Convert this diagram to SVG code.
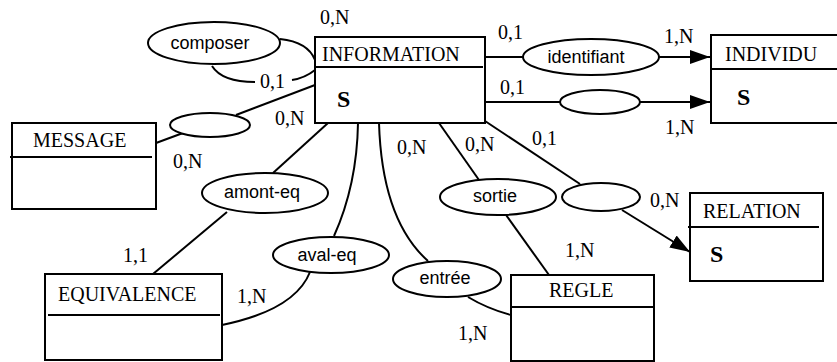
<svg xmlns="http://www.w3.org/2000/svg" width="837" height="362" viewBox="0 0 837 362">
  <style>
    .box { fill: #fff; stroke: #000; stroke-width: 2; }
    .sep { stroke: #000; stroke-width: 2; }
    .rel { fill: #fff; stroke: #000; stroke-width: 2; }
    .link { fill: none; stroke: #000; stroke-width: 2; }
    .ent { font-family: "Liberation Serif", "Times New Roman", serif; font-size: 20px; fill: #000; }
    .key { font-family: "Liberation Serif", "Times New Roman", serif; font-size: 24px; font-weight: bold; fill: #000; }
    .card { font-family: "Liberation Serif", "Times New Roman", serif; font-size: 20px; fill: #000; }
    .rlab { font-family: "Liberation Sans", Arial, sans-serif; font-size: 18px; fill: #000; text-anchor: middle; }
  </style>
  <defs>
    <marker id="arrow" markerUnits="userSpaceOnUse" markerWidth="20" markerHeight="14" refX="20" refY="7" orient="auto">
      <path d="M0,0 L20,7 L0,14 z" fill="#000"/>
    </marker>
  </defs>
  <rect width="837" height="362" fill="#fff"/>

  <!-- connectors -->
  <g id="connectors">
    <!-- composer (reflexive on INFORMATION) -->
    <path class="link" d="M280,39 Q308,42 315,60"/>
    <path class="link" d="M212,66 Q222,82 255,82"/>
    <path class="link" d="M292,80 Q305,78 315,70"/>
    <!-- INFORMATION - MESSAGE -->
    <path class="link" d="M315,85 L236,115"/>
    <path class="link" d="M183,133 L156,143"/>
    <!-- identifiant -->
    <path class="link" d="M485,57 L523,57"/>
    <path class="link" d="M659,57 L710,57" marker-end="url(#arrow)"/>
    <!-- second INFORMATION - INDIVIDU link -->
    <path class="link" d="M485,102 L560,102"/>
    <path class="link" d="M640,102 L710,102" marker-end="url(#arrow)"/>
    <!-- amont-eq -->
    <path class="link" d="M328,123 L273,173"/>
    <path class="link" d="M227,212 L153,274"/>
    <!-- aval-eq -->
    <path class="link" d="M358,123 Q357,185 334,236"/>
    <path class="link" d="M310,272 Q295,310 222,325"/>
    <!-- entrée -->
    <path class="link" d="M379,123 Q382,220 428,261"/>
    <path class="link" d="M468,297 Q488,309 511,315"/>
    <!-- sortie -->
    <path class="link" d="M439,123 L479,180"/>
    <path class="link" d="M506,215 L549,275"/>
    <!-- INFORMATION - RELATION -->
    <path class="link" d="M485,121 L580,184"/>
    <path class="link" d="M622,210 L690,252" marker-end="url(#arrow)"/>
  </g>

  <!-- relationship ellipses -->
  <g id="composer">
    <ellipse class="rel" cx="214" cy="43" rx="66" ry="21"/>
    <text class="rlab" x="210" y="49">composer</text>
  </g>
  <g id="message-link">
    <ellipse class="rel" cx="210" cy="125" rx="40" ry="12"/>
  </g>
  <g id="identifiant">
    <ellipse class="rel" cx="591" cy="57" rx="68" ry="18"/>
    <text class="rlab" x="586" y="63">identifiant</text>
  </g>
  <g id="individu-link">
    <ellipse class="rel" cx="600" cy="102" rx="40" ry="12"/>
  </g>
  <g id="amont-eq">
    <ellipse class="rel" cx="265" cy="193" rx="63" ry="20"/>
    <text class="rlab" x="262" y="198">amont-eq</text>
  </g>
  <g id="aval-eq">
    <ellipse class="rel" cx="331" cy="255" rx="58" ry="18"/>
    <text class="rlab" x="327" y="261">aval-eq</text>
  </g>
  <g id="entree">
    <ellipse class="rel" cx="447" cy="279" rx="54" ry="18"/>
    <text class="rlab" x="445" y="284">entrée</text>
  </g>
  <g id="sortie">
    <ellipse class="rel" cx="498" cy="197" rx="58" ry="18"/>
    <text class="rlab" x="495" y="202">sortie</text>
  </g>
  <g id="relation-link">
    <ellipse class="rel" cx="601" cy="197" rx="39" ry="14"/>
  </g>

  <!-- entities -->
  <g id="information">
    <rect class="box" x="315" y="37" width="170" height="86"/>
    <line class="sep" x1="315" y1="67" x2="483" y2="67"/>
    <text class="ent" x="322" y="61">INFORMATION</text>
    <text class="key" x="337" y="107">S</text>
  </g>
  <g id="individu">
    <rect class="box" x="711" y="35" width="127" height="88"/>
    <line class="sep" x1="711" y1="69" x2="838" y2="69"/>
    <text class="ent" x="725" y="61">INDIVIDU</text>
    <text class="key" x="737" y="105">S</text>
  </g>
  <g id="message">
    <rect class="box" x="12" y="123" width="144" height="86"/>
    <line class="sep" x1="10" y1="157" x2="152" y2="157"/>
    <text class="ent" x="33" y="147">MESSAGE</text>
  </g>
  <g id="equivalence">
    <rect class="box" x="45" y="274" width="177" height="86"/>
    <line class="sep" x1="48" y1="315" x2="220" y2="315"/>
    <text class="ent" x="58" y="301">EQUIVALENCE</text>
  </g>
  <g id="regle">
    <rect class="box" x="511" y="275" width="143" height="86"/>
    <line class="sep" x1="511" y1="307" x2="654" y2="307"/>
    <text class="ent" x="549" y="297">REGLE</text>
  </g>
  <g id="relation">
    <rect class="box" x="690" y="193" width="133" height="88"/>
    <line class="sep" x1="688" y1="227" x2="819" y2="227"/>
    <text class="ent" x="703" y="218">RELATION</text>
    <text class="key" x="710" y="262">S</text>
  </g>

  <!-- cardinalities -->
  <g id="cardinalities">
    <text class="card" x="320" y="24">0,N</text>
    <text class="card" x="260" y="88">0,1</text>
    <text class="card" x="275" y="125">0,N</text>
    <text class="card" x="173" y="168">0,N</text>
    <text class="card" x="498" y="39">0,1</text>
    <text class="card" x="664" y="43">1,N</text>
    <text class="card" x="500" y="94">0,1</text>
    <text class="card" x="665" y="134">1,N</text>
    <text class="card" x="397" y="154">0,N</text>
    <text class="card" x="465" y="151">0,N</text>
    <text class="card" x="532" y="145">0,1</text>
    <text class="card" x="650" y="207">0,N</text>
    <text class="card" x="565" y="257">1,N</text>
    <text class="card" x="123" y="262">1,1</text>
    <text class="card" x="237" y="303">1,N</text>
    <text class="card" x="458" y="340">1,N</text>
  </g>
</svg>
